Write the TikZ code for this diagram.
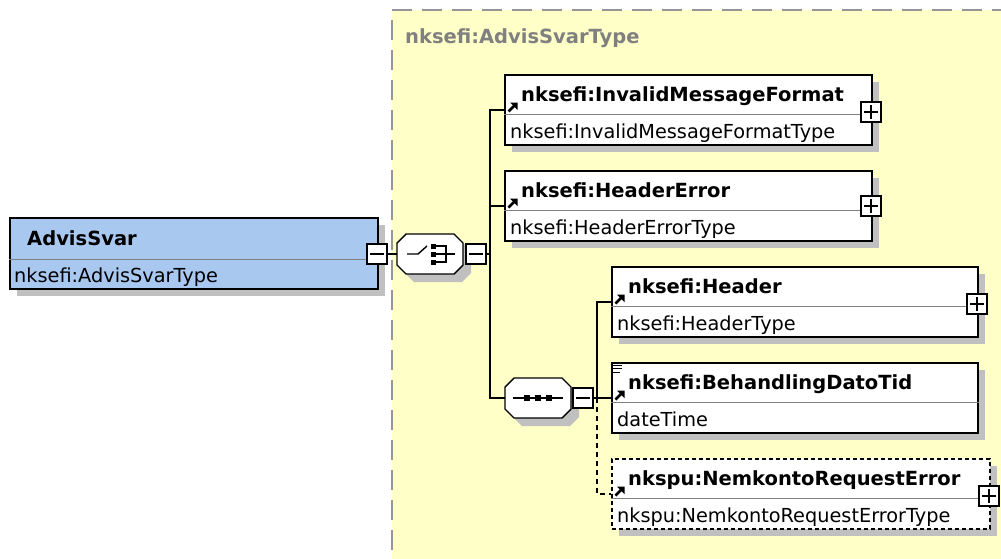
\documentclass[tikz,border=0pt]{standalone}
\usepackage{fontspec}
\setmainfont{DejaVu Sans}
\usetikzlibrary{calc,arrows.meta}
\definecolor{bgyellow}{RGB}{255,255,200}
\definecolor{bluefill}{RGB}{168,200,240}
\definecolor{shadowc}{RGB}{192,192,192}
\definecolor{bordergray}{RGB}{150,150,150}
\definecolor{titlegray}{RGB}{128,128,128}
\tikzset{
 elembox/.style={draw=black, line width=1.6pt, fill=white, rectangle, inner sep=0pt, anchor=north west},
 dashedbox/.style={dash pattern=on 4pt off 3pt},
 sepline/.style={draw=titlegray, line width=0.9pt},
 titletxt/.style={font=\fontsize{19.5}{22}\selectfont\bfseries, anchor=base west, inner sep=0pt},
 typetxt/.style={font=\fontsize{19.3}{22}\selectfont, anchor=base west, inner sep=0pt},
 ctrlbox/.style={draw=black, fill=white, line width=1.4pt, minimum size=20pt, inner sep=0pt, rectangle},
 conn/.style={draw=black, line width=1.4pt},
 optconn/.style={conn, dash pattern=on 5pt off 4pt},
 refshaft/.style={line width=2.8pt},
 refhead/.style={fill=black},
 octo/.style={draw=black, fill=white, line width=1.4pt},
 compbox/.style={rectangle, minimum width=66pt, minimum height=40pt, inner sep=0pt},
 sym/.style={line width=1.4pt},
 dotsq/.style={fill=black}
}
\newcommand\xelem[7]{%
 \fill[shadowc] (#2+8,#3+8) rectangle (#2+#4+8,#3+78);
 \node[elembox,minimum width=#4pt,minimum height=70pt,#7] (#1) at (#2,#3) {};
 \draw[sepline] ($(#1.north west)+(0,40)$) -- ($(#1.north east)+(0,40)$);
 \node[titletxt] (#1-t) at ($(#1.north west)+(17,27)$) {#5};
 \node[typetxt] (#1-ty) at ($(#1.north west)+(6,64)$) {#6};
 \draw[refshaft] ($(#1.north west)+(4.5,37.5)$) -- ($(#1.north west)+(10,32)$);
 \fill[refhead] ($(#1.north west)+(13.5,28.5)$) -- ($(#1.north west)+(13.5,36)$) -- ($(#1.north west)+(6,28.5)$) -- cycle;
 \coordinate (#1-in) at ($(#1.north west)+(0,36)$);
}
\newcommand\xplus[2]{%
 \node[ctrlbox] (#1) at (#2) {};
 \draw[line width=1.2pt] ($(#1)+(-7,0)$) -- ($(#1)+(7,0)$) ($(#1)+(0,-7)$) -- ($(#1)+(0,7)$);
}
\newcommand\xminus[2]{%
 \node[ctrlbox] (#1) at (#2) {};
 \draw[line width=1.2pt] ($(#1)+(-7,0)$) -- ($(#1)+(7,0)$);
}
\newcommand\xocto[3]{% name, x, y (center)
 \fill[shadowc] (#2-33+9+8,#3-20+8) -- (#2+33-9+8,#3-20+8) -- (#2+33+8,#3-20+9+8) -- (#2+33+8,#3+20-9+8) -- (#2+33-9+8,#3+20+8) -- (#2-33+9+8,#3+20+8) -- (#2-33+8,#3+20-9+8) -- (#2-33+8,#3-20+9+8) -- cycle;
 \node[compbox] (#1) at (#2,#3) {};
 \draw[octo] (#2-33+9,#3-20) -- (#2+33-9,#3-20) -- (#2+33,#3-20+9) -- (#2+33,#3+20-9) -- (#2+33-9,#3+20) -- (#2-33+9,#3+20) -- (#2-33,#3+20-9) -- (#2-33,#3-20+9) -- cycle;
}
\begin{document}
\begin{tikzpicture}[x=1pt,y=-1pt]
\useasboundingbox (0,0) rectangle (1001,558);
% complex type area
\fill[bgyellow] (392,10) rectangle (1020,580);
\draw[bordergray, line width=1.8pt, dash pattern=on 20pt off 10pt] (392,580) -- (392,10) -- (1020,10);
\node[titletxt, text=titlegray] (ctype) at (405,43) {nksefi:AdvisSvarType};

% root element
\fill[shadowc] (17,225) rectangle (385,296);
\node[elembox, fill=bluefill, minimum width=368pt, minimum height=71pt] (root) at (9,217) {};
\draw[sepline] ($(root.north west)+(0,42)$) -- ($(root.north east)+(0,42)$);
\node[titletxt] (root-t) at (27,245) {AdvisSvar};
\node[typetxt] (root-ty) at (14,282) {nksefi:AdvisSvarType};
\xminus{rmin}{377,254}

% choice compositor
\xocto{choice}{430}{254}
\draw[sym] ($(choice)+(-23,0)$) -- ($(choice)+(-12,0)$) -- ($(choice)+(-3,-8)$);
\draw[sym] ($(choice)+(3,-8)$) -- ($(choice)+(16,-8)$) -- ($(choice)+(16,8)$) -- ($(choice)+(3,8)$);
\draw[sym] ($(choice)+(3,0)$) -- ($(choice)+(25,0)$);
\foreach \dy in {-8,0,8} \fill[dotsq] ($(choice)+(0.5,\dy-2.5)$) rectangle ($(choice)+(5.5,\dy+2.5)$);
\xminus{cmin}{476,254}

% sequence compositor
\xocto{seq}{538}{398}
\draw[sym] ($(seq)+(-25,0)$) -- ($(seq)+(25,0)$);
\foreach \dx in {-11,0,11} \fill[dotsq] ($(seq)+(\dx-3,-3)$) rectangle ($(seq)+(\dx+3,3)$);
\xminus{smin}{583,398}

% elements
\xelem{imf}{504}{74}{367}{nksefi:InvalidMessageFormat}{nksefi:InvalidMessageFormatType}{}
\xplus{imfp}{871,112}
\xelem{he}{504}{170}{367}{nksefi:HeaderError}{nksefi:HeaderErrorType}{}
\xplus{hep}{871,206}
\xelem{hd}{611}{266}{366}{nksefi:Header}{nksefi:HeaderType}{}
\xplus{hdp}{977,304}
\xelem{bdt}{611}{362}{366}{nksefi:BehandlingDatoTid}{dateTime}{}
\draw[line width=1pt] (613,365) -- (622,365) (613,368.5) -- (622,368.5) (613,372) -- (620,372);
\xelem{nre}{611}{458}{378}{nkspu:NemkontoRequestError}{nkspu:NemkontoRequestErrorType}{dashedbox}
\xplus{nrep}{989,496}

% connectors
\coordinate (b1) at (490,254);
\coordinate (b2) at (597,398);
\draw[conn] (rmin.east) -- (choice.west);
\draw[conn] (cmin.east) -- (b1);
\draw[conn] (imf-in) -| (b1);
\draw[conn] (he-in) -| (b1);
\draw[conn] (seq.west) -| (b1);
\draw[conn] (smin.east) -- (b2);
\draw[conn] (hd-in) -| (b2);
\draw[conn] (bdt-in) -- (b2);
\draw[optconn] (b2) |- (nre-in);
\end{tikzpicture}
\end{document}
